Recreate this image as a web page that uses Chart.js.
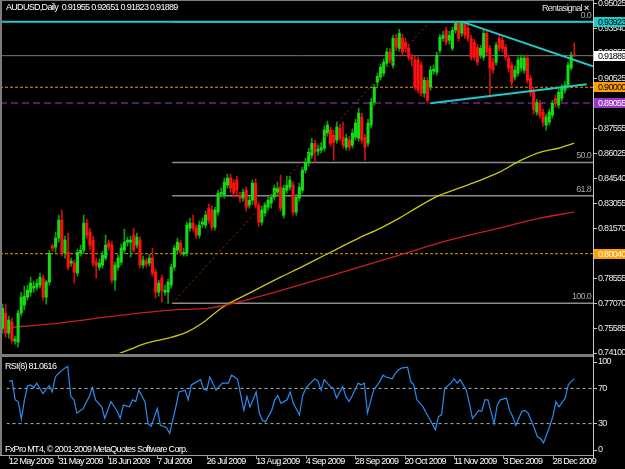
<!DOCTYPE html>
<html><head><meta charset="utf-8">
<script src="https://cdn.jsdelivr.net/npm/chart.js@4.4.1/dist/chart.umd.min.js"></script>
<style>
html,body{margin:0;padding:0;background:#000;width:625px;height:469px;overflow:hidden}
canvas{position:absolute;left:0}
#main{top:0}
#rsi{top:357px}
</style></head><body>
<canvas id="main" width="625" height="357"></canvas>
<canvas id="rsi" width="625" height="112"></canvas>
<script>
// ---------- DATA ----------
const symbolTitle = 'AUDUSD,Daily';
const dateLabels = ['12 May 2009','31 May 2009','18 Jun 2009','7 Jul 2009','26 Jul 2009','13 Aug 2009','4 Sep 2009','28 Sep 2009','20 Oct 2009','11 Nov 2009','3 Dec 2009','28 Dec 2009'];
const dateTickIndex = [0,16,32,48,64,80,96,112,128,144,160,176];
const priceTicks = [0.74100,0.75585,0.77070,0.78555,0.80040,0.81570,0.83055,0.84540,0.86025,0.87555,0.89055,0.90525,0.92055,0.93540,0.95025];

const opens = [.7559,.7649,.7529,.7595,.7481,.7475,.7649,.7696,.7744,.7774,
.7798,.7804,.7816,.7858,.7744,.7834,.8049,.8043,.8097,.8205,
.8007,.8013,.7948,.7948,.7888,.8007,.8025,.8187,.8133,.8085,
.7954,.7924,.7936,.7978,.8067,.8055,.7846,.7924,.7954,.8025,
.8073,.8073,.8115,.8055,.8085,.7936,.7960,.7948,.7978,.7894,
.7774,.7858,.7774,.7774,.7816,.7924,.8025,.8067,.8001,.8007,
.8157,.8187,.8157,.8115,.8181,.8175,.8277,.8265,.8163,.8253,
.8360,.8354,.8414,.8456,.8426,.8444,.8354,.8336,.8384,.8295,
.8324,.8426,.8295,.8193,.8247,.8283,.8306,.8342,.8372,.8402,
.8235,.8384,.8402,.8414,.8253,.8336,.8384,.8504,.8546,.8594,
.8665,.8617,.8623,.8635,.8725,.8743,.8713,.8683,.8755,.8701,
.8641,.8683,.8653,.8701,.8695,.8821,.8701,.8665,.8773,.8910,
.9030,.9060,.9084,.9144,.9210,.9132,.9293,.9233,.9293,.9269,
.9233,.9180,.9162,.9162,.9132,.8964,.9042,.9000,.9096,.9090,
.9221,.9293,.9341,.9281,.9233,.9341,.9383,.9323,.9383,.9353,
.9293,.9269,.9239,.9192,.9180,.9323,.9233,.9150,.9150,.9293,
.9281,.9239,.9174,.9132,.9060,.9084,.9114,.9102,.9174,.9054,
.8982,.8851,.8904,.8851,.8773,.8791,.8833,.8934,.8893,.8934,
.8982,.9012,.9114,.91955];
const highs = [.7702,.7702,.7631,.7619,.7511,.7667,.7774,.7810,.7816,.7864,
.7840,.7852,.7888,.7876,.7846,.8025,.8061,.8133,.8235,.8265,
.8109,.8127,.7978,.7966,.8031,.8055,.8235,.8211,.8157,.8109,
.7978,.7972,.8019,.8115,.8085,.8079,.7954,.7996,.8061,.8151,
.8103,.8109,.8157,.8127,.8103,.7990,.7978,.8001,.8037,.7912,
.7846,.7876,.7816,.7852,.7942,.8055,.8097,.8085,.8037,.8193,
.8217,.8235,.8175,.8199,.8217,.8259,.8301,.8289,.8283,.8384,
.8396,.8456,.8480,.8480,.8450,.8468,.8372,.8390,.8402,.8348,
.8444,.8450,.8312,.8289,.8312,.8342,.8360,.8414,.8432,.8474,
.8414,.8468,.8468,.8432,.8360,.8426,.8522,.8575,.8635,.8695,
.8683,.8653,.8671,.8767,.8797,.8761,.8743,.8791,.8779,.8791,
.8719,.8707,.8749,.8809,.8875,.8845,.8719,.8809,.8934,.9018,
.9084,.9138,.9168,.9233,.9233,.9311,.9317,.9347,.9317,.9293,
.9257,.9198,.9186,.9180,.9150,.9060,.9060,.9126,.9132,.9210,
.9317,.9335,.9359,.9335,.9359,.9386,.9390,.93923,.9390,.9371,
.9311,.9287,.9257,.9251,.9341,.9341,.9251,.9174,.9269,.9317,
.9305,.9257,.9192,.9150,.9126,.9180,.9192,.9192,.9192,.9072,
.9000,.8928,.8922,.8869,.8839,.8869,.8922,.8952,.8988,.9018,
.9036,.9150,.9210,.92651];
const lows = [.7529,.7505,.7499,.7469,.7463,.7445,.7631,.7667,.7726,.7750,
.7774,.7786,.7798,.7726,.7702,.7816,.8019,.8013,.8073,.7990,
.7978,.7906,.7930,.7828,.7870,.7990,.8007,.8097,.8025,.7930,
.7858,.7906,.7918,.7966,.8025,.7828,.7786,.7906,.7936,.8007,
.8049,.7984,.8013,.8037,.7918,.7918,.7924,.7930,.7870,.7738,
.7750,.7714,.7756,.7707,.7798,.7906,.8007,.7996,.7990,.7990,
.8139,.8139,.8097,.8097,.8163,.8157,.8187,.8145,.8145,.8235,
.8342,.8336,.8396,.8372,.8342,.8354,.8312,.8318,.8259,.8277,
.8301,.8277,.8169,.8175,.8229,.8265,.8277,.8324,.8348,.8259,
.8217,.8366,.8384,.8235,.8235,.8318,.8366,.8486,.8528,.8575,
.8552,.8594,.8605,.8617,.8707,.8647,.8564,.8665,.8677,.8635,
.8623,.8623,.8635,.8683,.8677,.8665,.8564,.8647,.8755,.8893,
.9006,.9042,.9066,.9126,.9144,.9114,.9221,.9216,.9192,.9210,
.9162,.9126,.8982,.8964,.8946,.8940,.8904,.8982,.9078,.9072,
.9204,.9275,.9251,.9257,.9221,.9323,.9275,.9305,.9293,.9275,
.9162,.9162,.9132,.9174,.9162,.9192,.8940,.9084,.9132,.9216,
.9210,.9162,.9090,.9006,.9042,.9066,.9096,.9084,.9024,.8946,
.8839,.8833,.8815,.8767,.8743,.8773,.8815,.8881,.8875,.8916,
.8964,.8994,.9102,.91823];
const closes = [.7678,.7529,.7607,.7487,.7493,.7649,.7744,.7750,.7786,.7828,
.7810,.7828,.7864,.7744,.7834,.8007,.8037,.8097,.8205,.8007,
.8085,.7924,.7960,.7894,.8013,.8025,.8187,.8115,.8055,.7948,
.7936,.7948,.7996,.8055,.8043,.7846,.7936,.7978,.8037,.8073,
.8085,.8085,.8025,.8103,.7936,.7966,.7942,.7978,.7888,.7774,
.7828,.7786,.7786,.7834,.7924,.8037,.8073,.8013,.8013,.8175,
.8187,.8157,.8115,.8175,.8193,.8235,.8205,.8163,.8265,.8366,
.8372,.8432,.8456,.8396,.8366,.8384,.8336,.8372,.8283,.8324,
.8426,.8295,.8193,.8265,.8295,.8324,.8342,.8396,.8396,.8277,
.8396,.8414,.8444,.8253,.8342,.8402,.8504,.8552,.8611,.8665,
.8611,.8629,.8641,.8743,.8773,.8665,.8671,.8761,.8695,.8653,
.8695,.8641,.8725,.8785,.8845,.8683,.8641,.8785,.8910,.9000,
.9066,.9120,.9150,.9210,.9162,.9293,.9239,.9323,.9210,.9233,
.9180,.9168,.9000,.8982,.8964,.9042,.8922,.9102,.9108,.9192,
.9299,.9311,.9269,.9311,.9341,.9383,.9293,.9389,.9311,.9293,
.9180,.9180,.9150,.9233,.9323,.9210,.9114,.9102,.9251,.9233,
.9233,.9180,.9114,.9030,.9102,.9162,.9174,.9174,.9042,.8970,
.8863,.8910,.8833,.8791,.8821,.8851,.8904,.8904,.8970,.9000,
.9012,.9132,.9192,.91889];

const maYellowIdx = [36,41,46,53,59,64,70,79,89,95,105,114,121,127,134,140,146,153,159,166,172,178,183];
const maYellowVal = [0.7397,0.7433,0.7469,0.7499,0.7535,0.7589,0.7678,0.7768,0.7864,0.7918,0.8013,0.8097,0.8157,0.8217,0.8295,0.8354,0.8396,0.8444,0.8492,0.8564,0.8611,0.8635,0.8665];
const maRedIdx = [0,18,38,54,66,74,95,111,127,143,159,172,183];
const maRedVal = [0.7559,0.7589,0.7637,0.7667,0.7678,0.7708,0.7816,0.7906,0.7996,0.8085,0.8157,0.8217,0.8253];

const hLinePrices = [0.93923,0.91889,0.90000,0.89055,0.80040];
const fibNames = ['0.0','50.0','61.8','100.0'];
const fibPrices = [0.93923,0.85497,0.83508,0.77070];
const fibStartIdx = 54.3;
const fibTrendIdx = [54.3,136.8];
const fibTrendVal = [0.77070,0.93923];
const trendDownIdx = [147,189];
const trendDownVal = [0.93923,0.9125];
const trendUpIdx = [137,187];
const trendUpVal = [0.8904,0.9018];

const rsiIdx = [0,1,2,3,4,5,6,7,8,9,11,12,13,14,15,16,18,19,20,21,22,24,26,27,28,30,31,33,35,36,37,39,40,41,42,44,45,46,48,49,50,51,52,54,55,57,58,59,60,62,63,64,65,67,68,69,71,72,73,74,76,77,78,80,81,82,83,85,86,87,88,90,91,92,94,95,96,97,99,100,101,102,104,105,106,108,109,110,111,113,114,115,116,118,120,121,122,124,125,126,127,129,130,131,132,134,135,136,138,139,140,141,143,144,145,146,148,149,150,152,153,154,155,157,158,159,161,162,163,164,166,167,168,170,171,172,173,175,176,177,178,180,181,182,183];
const rsiVal = [78,79,57,55,35,57,73,74,71,76,64,69,73,66,83,87,93,95,61,57,42,47,61,71,57,49,36,55,44,36,51,49,57,55,68,55,30,27,47,28,27,25,19,49,66,68,57,74,76,80,69,68,83,68,72,76,76,85,83,80,45,61,49,66,42,34,32,45,57,62,53,57,66,53,40,61,70,74,81,78,68,80,72,70,59,72,61,55,61,76,74,76,42,68,78,85,83,81,87,91,93,94,78,74,57,49,42,36,23,38,40,70,76,81,76,80,68,53,36,45,44,57,57,30,51,57,59,45,38,28,44,45,42,25,15,13,8,27,38,55,49,59,74,78,81.0616];
const rsiLevels = [30,70];
const rsiTicks = [0,30,70,100];

// ---------- STYLE / HELPERS ----------
const FONT = '"Liberation Sans",Arial,sans-serif';
const SPACING = '-0.7px';
const xMin = -0.8, xMax = 189;
const pts = (xs, ys) => xs.map((x, k) => ({x, y: ys[k]}));
const hline = (p, x0) => [{x: x0, y: p}, {x: xMax, y: p}];
const isUp = opens.map((o, i) => closes[i] >= o);
const hStyle = [
  {c:'#22c8c8', w:2, d:[], order:3},
  {c:'#7a7a7a', w:1, d:[], order:30},
  {c:'#e89b00', w:1, d:[3,2], order:30},
  {c:'#9a3cd0', w:1, d:[7,4], order:30},
  {c:'#e89b00', w:1, d:[3,2], order:30}
];
const boxBg = ['#22c8c8','#ffffff','#ff9f00','#9a35c8','#ff9f00'];
const boxFg = ['#000000','#000000','#000000','#ffffff','#ffffff'];
const lineBase = {type:'line', pointRadius:0, fill:false, tension:0};

const condensed = {
  id: 'condensed',
  beforeUpdate(chart) { chart.ctx.letterSpacing = SPACING; },
  beforeDraw(chart) { chart.ctx.letterSpacing = SPACING; }
};

const mainDatasets = [];
hLinePrices.forEach((p, k) => mainDatasets.push(Object.assign({}, lineBase, {
  data: hline(p, xMin), borderColor: hStyle[k].c, borderWidth: hStyle[k].w, borderDash: hStyle[k].d, order: hStyle[k].order})));
fibPrices.forEach(p => mainDatasets.push(Object.assign({}, lineBase, {
  data: hline(p, fibStartIdx), borderColor:'#8c8c8c', borderWidth:1.5, order:31})));
mainDatasets.push(Object.assign({}, lineBase, {data: pts(maRedIdx, maRedVal), borderColor:'#c81e1e', borderWidth:1.3, cubicInterpolationMode:'monotone', order:25}));
mainDatasets.push(Object.assign({}, lineBase, {data: pts(maYellowIdx, maYellowVal), borderColor:'#c8c814', borderWidth:1.3, cubicInterpolationMode:'monotone', order:25}));
mainDatasets.push({type:'bar', data: lows.map((l, i) => ({x:i, y:[l, highs[i]]})), barThickness:1, grouped:false,
  backgroundColor: isUp.map(u => u ? '#0aa00a' : '#d01010'), borderWidth:0, order:20});
mainDatasets.push({type:'bar', data: opens.map((o, i) => ({x:i, y:[o, closes[i]]})), barThickness:2.4, grouped:false,
  backgroundColor: isUp.map(u => u ? '#12dc12' : '#ff1010'), borderWidth:0, order:15});
mainDatasets.push(Object.assign({}, lineBase, {data: pts(fibTrendIdx, fibTrendVal), borderColor:'#b01818', borderWidth:1, borderDash:[2,3], order:10}));
mainDatasets.push(Object.assign({}, lineBase, {data: pts(trendDownIdx, trendDownVal), borderColor:'#22c8c8', borderWidth:2, order:2}));
mainDatasets.push(Object.assign({}, lineBase, {data: pts(trendUpIdx, trendUpVal), borderColor:'#22c8c8', borderWidth:2, order:2}));

const mainDeco = {
  id: 'mainDeco',
  afterDraw(chart) {
    const c = chart.ctx, a = chart.chartArea, ys = chart.scales.y;
    c.save();
    c.letterSpacing = SPACING;
    c.fillStyle = '#7c7c7c';
    c.fillRect(0, 0, 2, chart.height);
    c.fillRect(0, 0, a.right, 1);
    c.fillRect(0, 354, a.right, 3);
    c.fillStyle = '#c8c8c8';
    c.fillRect(a.right, 0, 1, chart.height);
    c.font = '9px ' + FONT;
    c.fillStyle = '#a8a8a8'; c.textAlign = 'right'; c.textBaseline = 'bottom';
    fibPrices.forEach((p, k) => c.fillText(fibNames[k], a.right - 2, ys.getPixelForValue(p) - 2));
    c.textAlign = 'left'; c.textBaseline = 'middle';
    hLinePrices.forEach((p, k) => {
      const y = Math.round(ys.getPixelForValue(p));
      c.fillStyle = boxBg[k]; c.fillRect(a.right + 1, y - 5, chart.width - a.right - 1, 10);
      c.fillStyle = boxFg[k]; c.fillText(p.toFixed(5), a.right + 5, y + 0.5);
    });
    const n = closes.length - 1;
    c.fillStyle = '#ffffff';
    c.fillText(symbolTitle + '  ' + [opens[n], highs[n], lows[n], closes[n]].map(v => v.toFixed(5)).join(' '), 6, 8);
    c.fillStyle = '#e0e0e0';
    c.fillText('Rentasignal', 542, 9);
    c.font = 'bold 9px ' + FONT;
    c.fillText('\u00d7', 584, 9);
    c.restore();
  }
};

new Chart(document.getElementById('main'), {
  type: 'bar',
  data: {datasets: mainDatasets},
  options: {
    responsive: false, animation: false, devicePixelRatio: 1,
    layout: {padding: {top: 3, bottom: 4, left: 0, right: 0}},
    plugins: {legend: {display: false}, tooltip: {enabled: false}},
    scales: {
      x: {type: 'linear', min: xMin, max: xMax, offset: false, display: false},
      y: {position: 'right', min: 0.741, max: 0.95025,
        afterBuildTicks: s => { s.ticks = priceTicks.map(v => ({value: v})); },
        afterFit: s => { s.width = 32; },
        ticks: {color: '#e8e8e8', font: {family: FONT, size: 9, lineHeight: 0.5}, padding: 1, autoSkip: false, callback: v => Number(v).toFixed(5)},
        grid: {drawOnChartArea: false, color: '#c8c8c8', tickLength: 4},
        border: {display: true, color: '#c8c8c8'}
      }
    }
  },
  plugins: [condensed, mainDeco]
});

// ---------- RSI ----------
const rsiDatasets = rsiLevels.map(l => Object.assign({}, lineBase, {data: hline(l, xMin), borderColor:'#b4b4b4', borderWidth:1, borderDash:[3,3], order:10}));
rsiDatasets.push(Object.assign({}, lineBase, {data: pts(rsiIdx, rsiVal), borderColor:'#2a8cf0', borderWidth:1.2, order:1}));

const rsiDeco = {
  id: 'rsiDeco',
  afterDraw(chart) {
    const c = chart.ctx, a = chart.chartArea, xs = chart.scales.x;
    c.save();
    c.letterSpacing = SPACING;
    c.fillStyle = '#7c7c7c';
    c.fillRect(0, 0, 2, 98);
    c.fillStyle = '#a0a0a0';
    c.fillRect(0, 98, a.right, 1);
    dateTickIndex.forEach(v => { c.fillRect(Math.round(xs.getPixelForValue(v)), 98, 1, 4); });
    c.fillStyle = '#c8c8c8';
    c.fillRect(a.right, 0, 1, 102);
    c.font = '9px ' + FONT; c.fillStyle = '#ffffff'; c.textAlign = 'left'; c.textBaseline = 'middle';
    c.fillText('RSI(6) ' + rsiVal[rsiVal.length - 1].toFixed(4), 5, 10);
    c.fillText('FxPro MT4, \u00a9 2001-2009 MetaQuotes Software Corp.', 5, 93);
    c.restore();
  }
};

new Chart(document.getElementById('rsi'), {
  type: 'line',
  data: {datasets: rsiDatasets},
  options: {
    responsive: false, animation: false, devicePixelRatio: 1,
    layout: {padding: {top: 5, bottom: 0, left: 0, right: 0}},
    plugins: {legend: {display: false}, tooltip: {enabled: false}},
    scales: {
      x: {type: 'linear', min: xMin, max: xMax, offset: false,
        afterBuildTicks: s => { s.ticks = dateTickIndex.map(v => ({value: v})); },
        afterFit: s => { s.height = 19; },
        ticks: {color: '#ffffff', font: {family: FONT, size: 9, lineHeight: 0.5}, align: 'start', maxRotation: 0, autoSkip: false, padding: 9,
          callback: (v, i) => dateLabels[i]},
        grid: {drawOnChartArea: false, drawTicks: false},
        border: {display: false}
      },
      y: {position: 'right', min: 0, max: 100,
        afterBuildTicks: s => { s.ticks = rsiTicks.map(v => ({value: v})); },
        afterFit: s => { s.width = 32; },
        ticks: {color: '#e8e8e8', font: {family: FONT, size: 9, lineHeight: 0.5}, padding: 1, autoSkip: false, callback: v => String(v)},
        grid: {drawOnChartArea: false, color: '#c8c8c8', tickLength: 4},
        border: {display: true, color: '#c8c8c8'}
      }
    }
  },
  plugins: [condensed, rsiDeco]
});
</script>
</body></html>
